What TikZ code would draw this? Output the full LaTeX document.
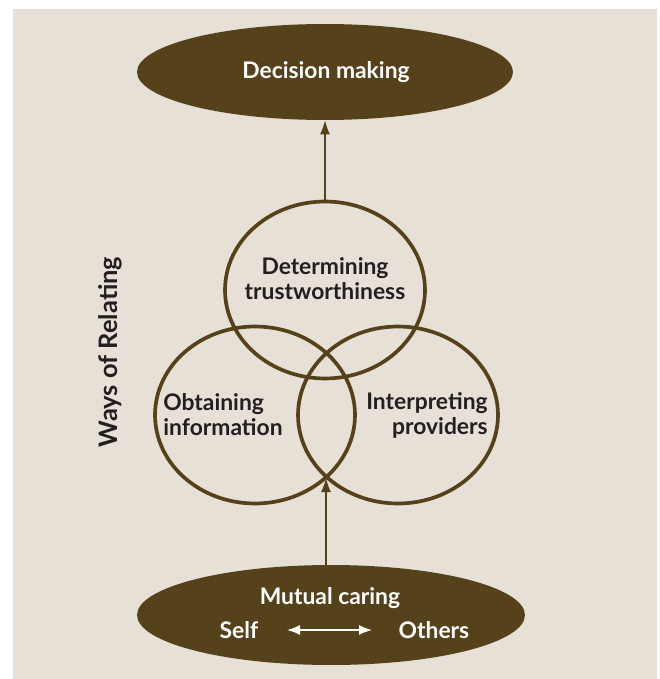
\documentclass[tikz,border=0pt]{standalone}
\usepackage{fontspec}
\setmainfont{Lato}
\usetikzlibrary{shapes.geometric,arrows.meta}
\definecolor{bark}{HTML}{55411A}
\definecolor{sand}{HTML}{E6E0D7}
\definecolor{ink}{HTML}{231F20}

\begin{document}
\begin{tikzpicture}[x=0.02cm, y=-0.02cm,
  blob/.style={ellipse, fill=bark, inner sep=0pt},
  ring/.style={ellipse, draw=bark, line width=2.1pt, inner sep=0pt, minimum width=4.0cm, minimum height=3.54cm},
  label/.style={text=ink, font=\bfseries\fontsize{13}{14.2}\selectfont},
  whitelabel/.style={text=white, font=\bfseries\fontsize{13}{14.2}\selectfont},
  link/.style={draw=bark, line width=0.85pt, -{Latex[length=0.28cm, width=0.2cm]}}]
\useasboundingbox (0,0) rectangle (659,679);
\fill[white] (0,0) rectangle (659,679);
\fill[sand] (13,9) rectangle (657,679);
% ovals and rings
\node[blob, minimum width=7.52cm, minimum height=1.92cm] (decision) at (325,72) {};
\node[blob, minimum width=7.76cm, minimum height=2.0cm] (caring) at (331,615) {};
\node[ring] (trust) at (325,290) {};
\node[ring] (obtain) at (255,415) {};
\node[ring] (interp) at (398,415) {};
\coordinate (meet) at (326,478);
% texts
\node[whitelabel] (decisiontxt) at (326,72) {Decision making};
\node[whitelabel] (mutual) at (330,598) {Mutual caring};
\node[whitelabel] (self) at (239,630) {Self};
\node[whitelabel] (others) at (434,630) {Others};
\node[label, align=center] (trusttxt) at (325,279) {Determining\\trustworthiness};
\node[label, align=left] (obtaintxt) at (223,415) {Obtaining\\information};
\node[label, align=right] (interptxt) at (427,415) {Interpreting\\providers};
\node[label, rotate=90, font=\bfseries\fontsize{14.5}{16}\selectfont] (ways) at (110,352) {Ways of Relating};
% arrows
\draw[link] (trust.north) -- (decision.south);
\draw[link] (caring.north -| meet) -- (meet);
\draw[white, line width=0.85pt, {Latex[length=0.26cm, width=0.2cm]}-{Latex[length=0.26cm, width=0.2cm]}] (287,630) -- (372,630);
\end{tikzpicture}
\end{document}
